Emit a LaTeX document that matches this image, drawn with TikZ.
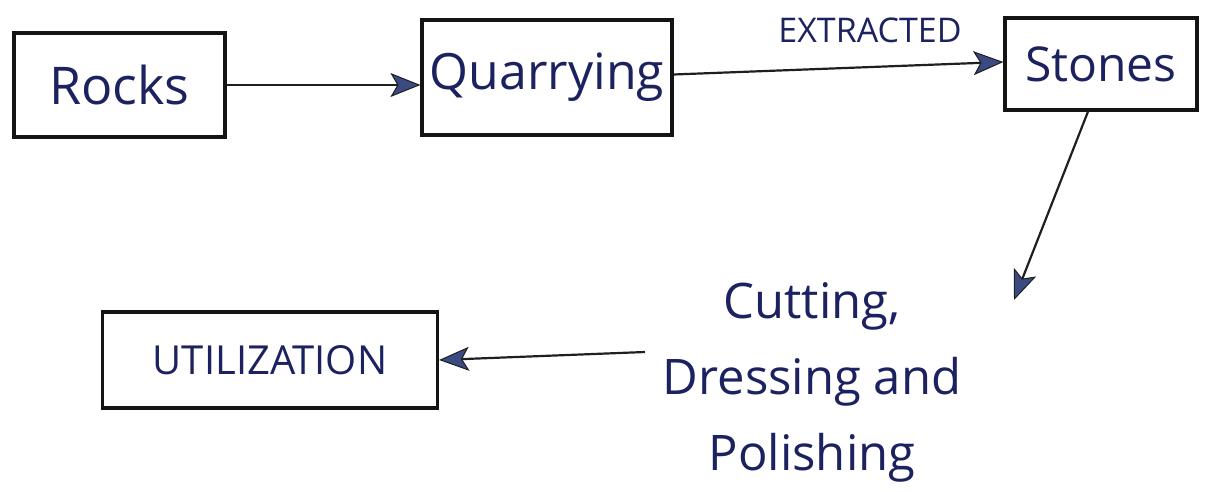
\documentclass[tikz,border=0pt]{standalone}
\usepackage{fontspec}
\setmainfont{Open Sans}
\usetikzlibrary{arrows.meta}
\definecolor{ink}{HTML}{1C2260}
\definecolor{tipc}{HTML}{3B4A80}
\tikzset{bigtip/.tip={Stealth[length=30pt,width=24pt,inset=7pt,fill=tipc,line width=1pt]}}
\begin{document}
\begin{tikzpicture}[x=1pt,y=-1pt,
  box/.style={draw=black!92, line width=3.2pt, minimum width=#1, inner sep=0pt, text=ink},
  lbl/.style={text=ink, inner sep=0pt},
  conn/.style={draw=black!88, line width=2.2pt, -bigtip}]
\useasboundingbox (0,0) rectangle (1212,492);
\node[box=211pt, minimum height=104pt, font=\fontsize{52}{60}\selectfont] (rocks) at (119.5,85) {Rocks};
\node[box=250pt, minimum height=115pt, font=\fontsize{50}{58}\selectfont] (quarry) at (547,77.5) {Quarrying};
\node[box=192pt, minimum height=92pt, font=\fontsize{48}{56}\selectfont] (stones) at (1101,64) {Stones};
\node[box=335pt, minimum height=96pt, font=\fontsize{40}{48}\selectfont] (util) at (270,360) {UTILIZATION};
\node[lbl, font=\fontsize{34}{40}\selectfont] (extr) at (870,30) {EXTRACTED};
\node[lbl, align=center, font=\fontsize{49}{76}\selectfont] (proc) at (812,382) {Cutting,\\Dressing and\\Polishing};
\coordinate (c1) at (1014,300);
\coordinate (c2) at (645,352);
\draw[conn] (rocks.east) -- (rocks.east -| quarry.west);
\draw[conn] ([yshift=3pt]quarry.east) -- ([yshift=2pt]stones.west);
\draw[conn] ([xshift=-13pt]stones.south) -- (c1);
\draw[conn] (c2) -- (util.east);
\end{tikzpicture}
\end{document}
